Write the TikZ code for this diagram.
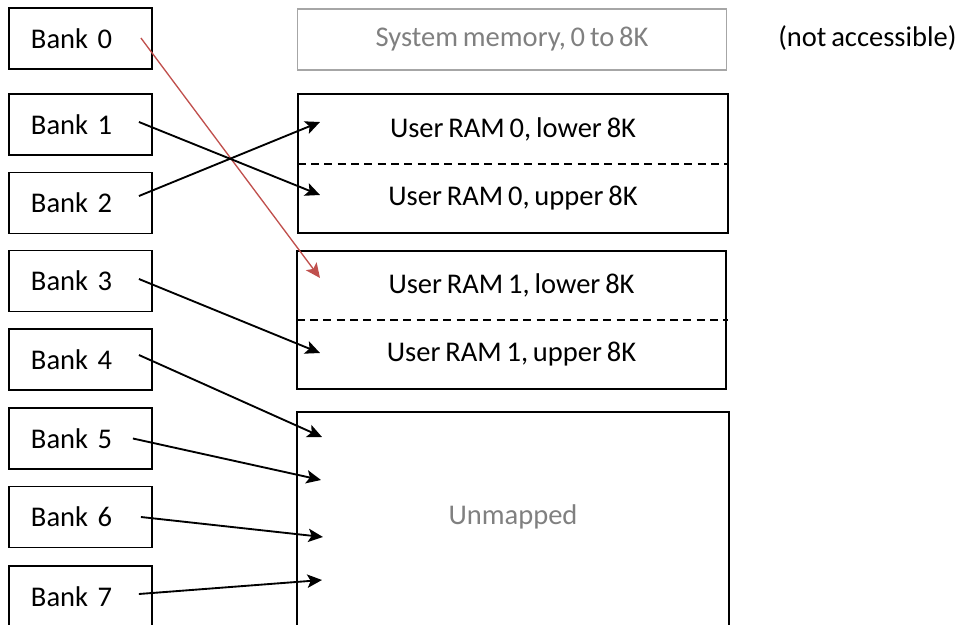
\documentclass[tikz,border=0pt]{standalone}
\usepackage{fontspec}
\setmainfont[WordSpace=0.75]{Carlito}
\usetikzlibrary{arrows.meta}

\definecolor{linkred}{HTML}{C0504D}
\definecolor{dimline}{HTML}{A6A6A6}
\definecolor{dimtext}{HTML}{808080}

\tikzset{
  bank/.style={draw, line width=1.4pt, minimum height=45.75pt, inner xsep=16.5pt,
    text width=74.25pt, align=left, font=\fontsize{21.4}{25}\selectfont},
  half/.style={minimum width=322.5pt, minimum height=51.75pt, inner sep=0pt,
    font=\fontsize{21.4}{25}\selectfont},
  memline/.style={line width=1.4pt},
  maparrow/.style={line width=1.4pt, -{Stealth[length=11pt,width=10pt,inset=2.5pt]}},
}

\begin{document}
\begin{tikzpicture}[x=0.75pt,y=-0.75pt]
      \useasboundingbox (0,0) rectangle (961,625);
      \clip (0,0) rectangle (961,625);
      % banks
      \node[bank] (b0) at (80.5,38.5) {Bank 0};
      \node[bank] (b1) at (80.5,124.5) {Bank 1};
      \node[bank] (b2) at (80.5,203) {Bank 2};
      \node[bank] (b3) at (80.5,281) {Bank 3};
      \node[bank] (b4) at (80.5,359.5) {Bank 4};
      \node[bank] (b5) at (80.5,438.5) {Bank 5};
      \node[bank] (b6) at (80.5,517) {Bank 6};
      \node[bank] (b7) at (80.5,596.5) {Bank 7};
      % memory
      \node[half, draw=dimline, line width=1.4pt, text=dimtext, minimum width=321.75pt, minimum height=45.75pt] (sys) at (512,39.5) {System memory, 0 to 8K};
      \node[anchor=west, inner sep=0pt, font=\fontsize{21.4}{25}\selectfont] (na) at (778,38) {(not accessible)};
      \node[half] (r0lo) at (513,129) {User RAM 0, lower 8K};
      \node[half] (r0up) at (513,198.5) {User RAM 0, upper 8K};
      \draw[memline] (r0lo.north west) rectangle (r0up.south east);
      \draw[memline, dashed, dash pattern=on 6pt off 4pt] (r0lo.south west) -- (r0lo.south east);
      \node[half, minimum width=321.75pt] (r1lo) at (511.5,285.5) {User RAM 1, lower 8K};
      \node[half, minimum width=321.75pt] (r1up) at (511.5,354.5) {User RAM 1, upper 8K};
      \draw[memline] (r1lo.north west) rectangle (r1up.south east);
      \draw[memline, dashed, dash pattern=on 6pt off 4pt] (r1lo.south west) -- ([xshift=1.5pt]r1lo.south east);
      \node[draw, memline, minimum width=324pt, minimum height=187.5pt, anchor=north] (unm) at (513,411) {};
      \node[text=dimtext, font=\fontsize{21.4}{25}\selectfont] (unmtxt) at (513,517) {Unmapped};
      % arrow ends
      \coordinate (t0) at (320,278);
      \coordinate (t1) at (320,195);
      \coordinate (t2) at (320,122);
      \coordinate (t3) at (320,353);
      \coordinate (t4) at (322,437);
      \coordinate (t5) at (321,480);
      \coordinate (t6) at (323,537);
      \coordinate (t7) at (322,580);
      \draw[maparrow, draw=linkred, line width=1pt] ([shift={(-12,-0.5)}]b0.east) -- (t0);
      \draw[maparrow] ([shift={(-14,-2.5)}]b1.east) -- (t1);
      \draw[maparrow] ([shift={(-14,-7)}]b2.east) -- (t2);
      \draw[maparrow] ([shift={(-14,-2)}]b3.east) -- (t3);
      \draw[maparrow] ([shift={(-14,-4.5)}]b4.east) -- (t4);
      \draw[maparrow] ([shift={(-20,0)}]b5.east) -- (t5);
      \draw[maparrow] ([shift={(-12,0)}]b6.east) -- (t6);
      \draw[maparrow] ([shift={(-14,-2.5)}]b7.east) -- (t7);
\end{tikzpicture}
\end{document}
